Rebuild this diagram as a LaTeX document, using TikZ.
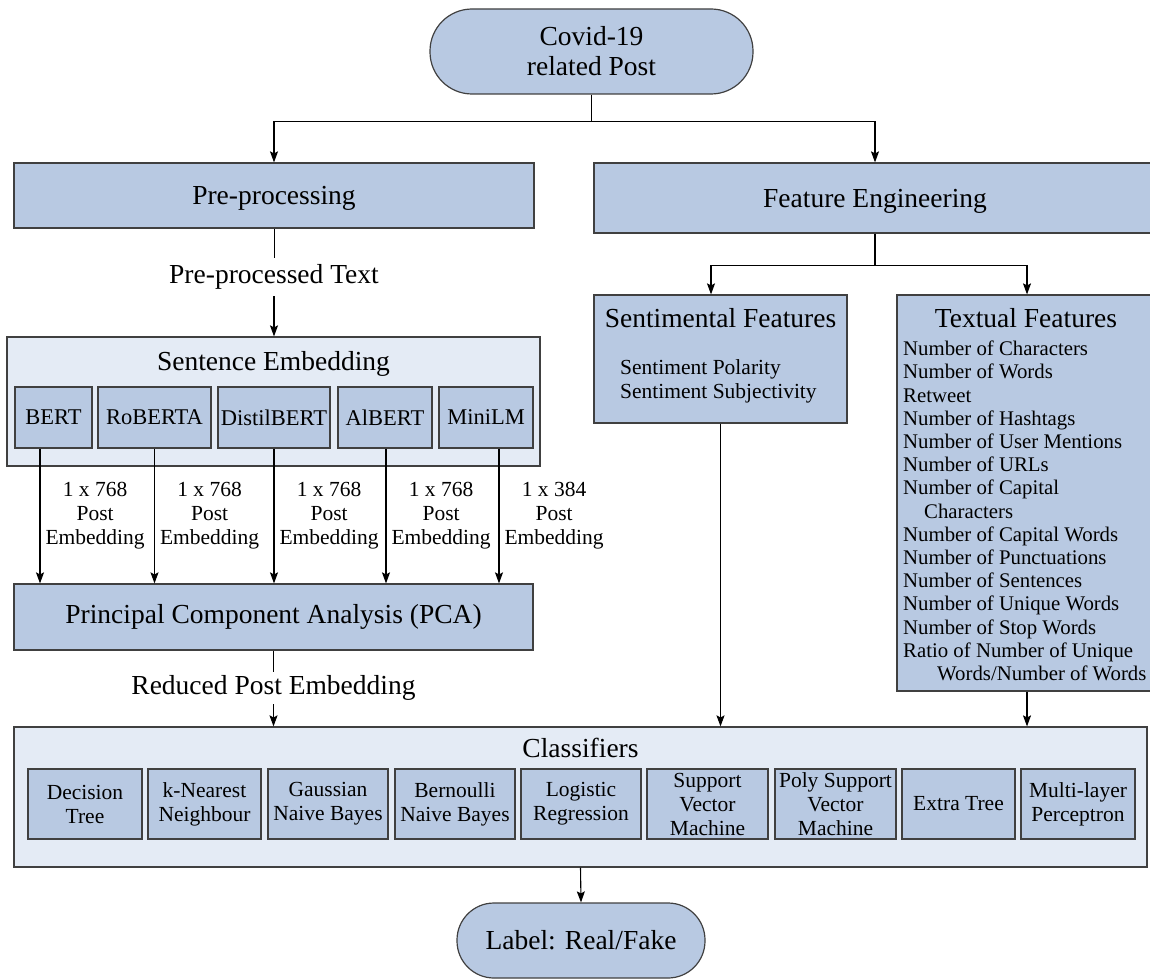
\documentclass[tikz,border=0pt]{standalone}
\usepackage{fontspec}
\setmainfont{Liberation Serif}
\usetikzlibrary{arrows.meta,calc,positioning}
\definecolor{boxblue}{RGB}{184,201,226}
\definecolor{paleblue}{RGB}{228,235,245}
\definecolor{edgegray}{RGB}{64,64,64}
\newcommand{\hfont}{\fontsize{27.5}{30}\selectfont}
\newcommand{\sfont}{\fontsize{21.5}{24}\selectfont}
\newcommand{\lfont}{\fontsize{20.8}{23.2}\selectfont}

\begin{document}
\begin{tikzpicture}[x=1pt,y=-1pt,font=\hfont,
      s/.style={draw=edgegray,line width=1.2pt,fill=boxblue,inner sep=0pt,
        align=center},
      g/.style={draw=edgegray,line width=1.2pt,fill=paleblue,inner sep=0pt},
      sb/.style={s,font=\fontsize{22.5}{26}\selectfont,minimum height=61pt},
      cl/.style={s,font=\sfont,minimum height=70pt},
      tx/.style={inner sep=0pt,align=center},
      em/.style={font=\sfont,align=center,inner sep=5pt},
      a/.style={-{Stealth[length=11pt,width=8pt,inset=2pt]},line width=1.1pt}]
  \useasboundingbox (0,0) rectangle (1150,979);
  \node[s,rounded corners=42pt,minimum width=323pt,minimum height=85pt]
    (post) at (591.5,51.5) {Covid-19\\related Post};
  \node[s,minimum width=520pt,minimum height=65pt,text depth=0pt] (pre)
    at (274,195.5) {Pre-processing};
  \node[s,minimum width=562pt,minimum height=70pt,text depth=0pt] (feat)
    at (875,198) {Feature Engineering};
  \draw[a] (post.south) -- ++(0,27) -| (pre.north);
  \draw[a] (post.south) -- ++(0,27) -| (feat.north);

  \node[tx,inner ysep=6.5pt] (ptext) at (274,277) {Pre-processed Text};
  \node[g,minimum width=533pt,minimum height=129pt] (sent) at (273.5,401.5) {};
  \node[tx,text depth=0pt] (senthead) at (273.5,361) {Sentence Embedding};
  \node[sb,minimum width=77pt] (bert) at (53.5,417.5) {BERT};
  \node[sb,minimum width=113pt] (roberta) at (154.5,417.5) {RoBERTA};
  \node[sb,minimum width=112pt] (distil) at (274,417.5) {DistilBERT};
  \node[sb,minimum width=94pt] (albert) at (385,417.5) {AlBERT};
  \node[sb,minimum width=94pt] (minilm) at (486,417.5) {MiniLM};
  \draw (pre.south) -- (ptext.north);
  \draw[a] (ptext.south) -- (ptext.south |- sent.north);

  \node[s,minimum width=519pt,minimum height=66pt] (pca) at (273.5,617)
    {Principal Component Analysis (PCA)};
  \draw[a] ([xshift=-13.5pt]bert.south) -- ([xshift=-13.5pt]bert.south |- pca.north)
    node[midway,right,em] {1 x 768\\Post\\Embedding};
  \draw[a] (roberta.south) -- (roberta.south |- pca.north)
    node[midway,right,em] {1 x 768\\Post\\Embedding};
  \draw[a] (distil.south) -- (distil.south |- pca.north)
    node[midway,right,em] {1 x 768\\Post\\Embedding};
  \draw[a] ([xshift=1pt]albert.south) -- ([xshift=1pt]albert.south |- pca.north)
    node[midway,right,em] {1 x 768\\Post\\Embedding};
  \draw[a] ([xshift=13pt]minilm.south) -- ([xshift=13pt]minilm.south |- pca.north)
    node[midway,right,em] {1 x 384\\Post\\Embedding};

  \node[s,minimum width=253pt,minimum height=128pt] (senti) at (720.5,359) {};
  \node[tx] (sentitext) at (720.5,318) {Sentimental Features};
  \node[tx,font=\sfont,align=left,anchor=west] (sentilist) at (620,381)
    {Sentiment Polarity\\Sentiment Subjectivity};
  \node[s,minimum width=260pt,minimum height=396pt] (textual) at (1027,493) {};
  \node[tx] (textualtext) at (1026,318) {Textual Features};
  \node[tx,font=\lfont,align=left,anchor=west] (textuallist) at (903,511)
    {Number of Characters\\Number of Words\\Retweet\\Number of Hashtags\\
     Number of User Mentions\\Number of URLs\\Number of Capital\\
     \hspace*{21pt}Characters\\Number of Capital Words\\Number of Punctuations\\
     Number of Sentences\\Number of Unique Words\\Number of Stop Words\\
     Ratio of Number of Unique\\\hspace*{34pt}Words/Number of Words};
  \draw[a] (feat.south) -- ++(0,32) -| ([xshift=-9.5pt]senti.north);
  \draw[a] (feat.south) -- ++(0,32) -| (textual.north);

  \node[tx,inner ysep=3.5pt] (reduced) at (273.5,688) {Reduced Post Embedding};
  \node[g,minimum width=1133pt,minimum height=140pt] (clf) at (580.5,797) {};
  \node[tx] (clfhead) at (580.5,748) {Classifiers};
  \node[cl,minimum width=114pt] (dt) at (85,804) {Decision\\Tree};
  \node[cl,minimum width=113pt] (knn) at (204.5,804) {k-Nearest\\Neighbour};
  \node[cl,minimum width=120pt] (gnb) at (328,804) {Gaussian\\Naive Bayes};
  \node[cl,minimum width=120pt] (bnb) at (455,804) {Bernoulli\\Naive Bayes};
  \node[cl,minimum width=120pt] (lr) at (581,804) {Logistic\\Regression};
  \node[cl,minimum width=121pt] (svm) at (707.5,804) {Support\\Vector\\Machine};
  \node[cl,minimum width=121pt] (psvm) at (835.5,804)
    {Poly Support\\Vector\\Machine};
  \node[cl,minimum width=113pt] (et) at (958.5,804) {Extra Tree};
  \node[cl,minimum width=114pt] (mlp) at (1078,804) {Multi-layer\\Perceptron};
  \draw (pca.south) -- (reduced.north);
  \draw[a] (reduced.south) -- (reduced.south |- clf.north);
  \draw[a] (senti.south) -- (senti.south |- clf.north);
  \draw[a] (textual.south) -- (textual.south |- clf.north);

  \node[s,rounded corners=37pt,minimum width=248pt,minimum height=75pt]
    (label) at (581,940.5) {Label: Real/Fake};
  \draw[a] (clf.south) -- (label.north);
\end{tikzpicture}
\end{document}
